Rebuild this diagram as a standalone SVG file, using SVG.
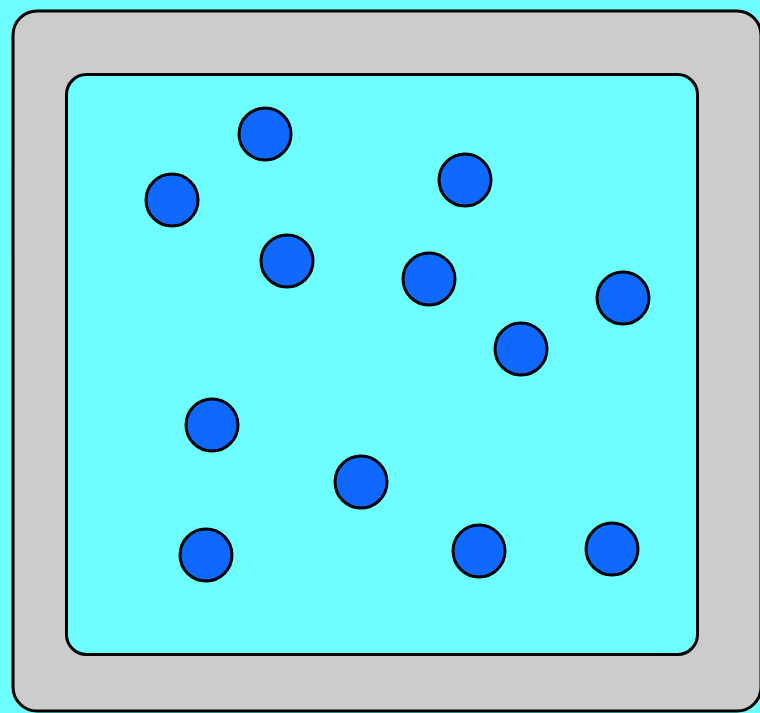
<svg xmlns="http://www.w3.org/2000/svg" width="760" height="713" viewBox="0 0 760 713">
<style>
.dot{fill:#0f69ff;stroke:#000;stroke-width:3}
</style>
<rect width="760" height="713" fill="#6ffeff"/>
<g id="frame">
<rect x="13" y="11" width="748" height="700" rx="24" fill="#cccccc" stroke="#000" stroke-width="3"/>
</g>
<g id="tank">
<rect x="66.5" y="74.5" width="631" height="580" rx="20" fill="#6ffeff" stroke="#000" stroke-width="3"/>
</g>
<g id="particles">
<circle class="dot" cx="265" cy="134" r="26"/>
<circle class="dot" cx="172" cy="200" r="26"/>
<circle class="dot" cx="465" cy="180" r="26"/>
<circle class="dot" cx="287" cy="261" r="26"/>
<circle class="dot" cx="429" cy="279" r="26"/>
<circle class="dot" cx="623" cy="298" r="26"/>
<circle class="dot" cx="521" cy="349" r="26"/>
<circle class="dot" cx="212" cy="425" r="26"/>
<circle class="dot" cx="361" cy="482" r="26"/>
<circle class="dot" cx="206" cy="555" r="26"/>
<circle class="dot" cx="479" cy="551" r="26"/>
<circle class="dot" cx="612" cy="549" r="26"/>
</g>
</svg>
